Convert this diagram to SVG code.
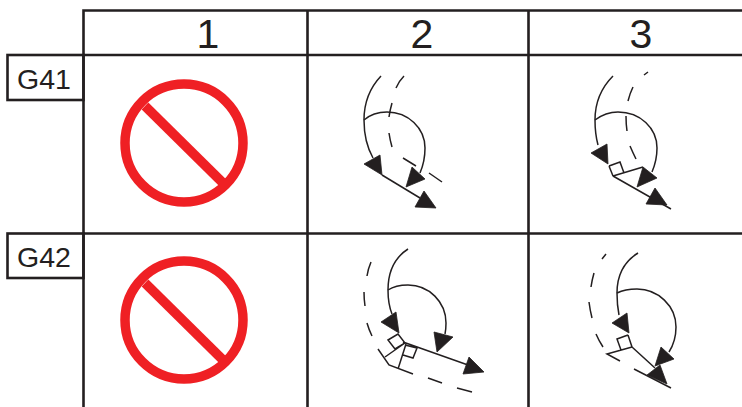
<svg xmlns="http://www.w3.org/2000/svg" width="742" height="407" viewBox="0 0 742 407">
<style>
.bg{fill:#fff}
.grid{fill:none;stroke:#231f20;stroke-width:2.6}
.hd{font-family:"Liberation Sans",Arial,sans-serif;font-size:41px;fill:#231f20;text-anchor:middle}
.lb{font-family:"Liberation Sans",Arial,sans-serif;font-size:28.500px;fill:#231f20;text-anchor:middle}
.no{fill:none;stroke:#ef2024;stroke-width:9.500}
.l{fill:none;stroke:#231f20;stroke-width:1.500}
.a{fill:#231f20;stroke:#231f20;stroke-width:.8;stroke-linejoin:miter}
</style>
<rect class="bg" width="742" height="407"/>
<g id="grid">
<path class="grid" d="M83.500 407V10.500H742M83.500 55H742M83.500 233.500H742M307.500 10.500V407M528.500 10.500V407"/>
</g>
<g id="h1"><text class="hd" x="208" y="48">1</text></g>
<g id="h2"><text class="hd" x="422" y="48">2</text></g>
<g id="h3"><text class="hd" x="641" y="48">3</text></g>
<g id="g41"><rect class="grid" x="7.500" y="55" width="76" height="45"/><text class="lb" x="44" y="89">G41</text></g>
<g id="g42"><rect class="grid" x="7.500" y="233.500" width="76" height="44.500"/><text class="lb" x="44" y="267">G42</text></g>
<g id="no1"><circle class="no" cx="184" cy="143" r="59"/><path class="no" d="M145 106L223 183"/></g>
<g id="no2"><circle class="no" cx="184" cy="320" r="59"/><path class="no" d="M145 283L223 360"/></g>
<g id="connectors">
<g id="c12">
<path class="l" d="M381 76Q364 94 364 120Q364 142 373 158"/>
<path class="l" d="M364 120C372 113 380 112 387 112C408 112 425 128 425 148C425 158 423 166 420 173"/>
<path class="l" d="M382 175L420 198"/>
<path class="l" d="M404 76Q399 81 396 88M392 103Q390 110 389 117M389 133Q390 140 392 147M403 158L416 166M429 173L442 182"/>
<path class="a" d="M364 164L380 155L382 175ZM406 187L412 167L425 179ZM415 207L424 191L436 208Z"/>
</g>
<g id="c13">
<path class="l" d="M613 76Q595 94 595 120Q595 134 598 145"/>
<path class="l" d="M595 120C603 114 611 112 618 112C640 112 657 128 657 148C657 157 655 165 652 172"/>
<path class="l" d="M609 166L620 162L624 173M613 176L609 166M613 176L643 167M613 176L671 209"/>
<path class="l" d="M648 72L644 75M633 87Q630 93 628 101M626 116Q626 124 627 131M630 146Q633 153 636 159"/>
<path class="a" d="M591 153L607 144L608 164ZM637 187L643 167L657 178ZM646 204L655 188L667 205Z"/>
</g>
<g id="c22">
<path class="l" d="M408 249Q388 262 388 290Q388 304 392 314"/>
<path class="l" d="M388 290C394 286 401 285 408 285C429 285 446 302 446 323Q446 329 445 334"/>
<path class="l" d="M403 342L468 365M388 340L398 334L405 343L395 349ZM405 345L417 348L413 358L403 355M405 343L385 357M406 344L398 369M378 349L389 365L413 374"/>
<path class="l" d="M428 378L442 383M457 388L472 392M371 262Q368 269 367 276M364 292Q364 299 365 306M367 323Q369 330 372 336"/>
<path class="a" d="M381 322L396 312L399 333ZM437 352L434 332L453 337ZM463 374L469 357L484 372Z"/>
</g>
<g id="c23">
<path class="l" d="M638 253Q617 266 617 293Q617 305 619 315"/>
<path class="l" d="M617 293C623 290 630 289 637 289C658 289 676 306 676 327Q676 341 669 352"/>
<path class="l" d="M628 335L617 339L621 350M628 335L632 347M632 347L607 354L620 361M632 347L655 368M634 369L671 388"/>
<path class="l" d="M606 254L602 259M594 273Q592 280 591 287M589 302Q590 310 592 318M596 334Q599 341 603 347"/>
<path class="a" d="M612 323L627 313L629 333ZM655 366L661 347L674 359ZM647 375L660 365L667 384Z"/>
</g>
</g>
</svg>
